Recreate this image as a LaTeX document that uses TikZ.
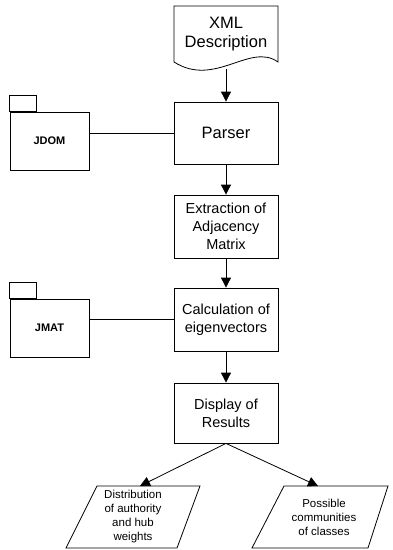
\documentclass[tikz,border=0pt]{standalone}
\usepackage{fontspec}
\setmainfont{Liberation Sans}
\usetikzlibrary{arrows.meta}
\begin{document}
\begin{tikzpicture}[x=1pt,y=-1pt,
  line width=0.8pt,
  flow/.style={draw=black, -{Triangle[width=10pt,length=10pt]}},
  link/.style={draw=black},
  procbox/.style={draw=black, fill=white, minimum width=104pt, inner sep=0pt, align=center,
                  font=\fontsize{14.5}{18.3}\selectfont},
  pkgbody/.style={draw=black, fill=white, minimum width=79pt, minimum height=58pt, inner sep=0pt,
                  font=\bfseries\fontsize{11}{13}\selectfont},
  outtext/.style={align=center, inner sep=0pt, font=\fontsize{11.5}{14}\selectfont}]
\useasboundingbox (0,0) rectangle (392,550);

% input document with wavy bottom edge
\draw[fill=white] (174,6) -- (278,6) -- (278,62)
  .. controls (250,42) and (215,88) .. (174,62) -- cycle;
\node[align=center, inner sep=0pt, font=\fontsize{16.5}{18.5}\selectfont] (xml) at (226,34) {XML\\Description};
\coordinate (xmlout) at (226,69);

% processing steps
\node[procbox, minimum height=62pt, font=\fontsize{16.5}{18.5}\selectfont] (parser) at (226,133) {Parser};
\node[procbox, minimum height=63pt] (extract) at (226,226.5) {Extraction of\\Adjacency\\Matrix};
\node[procbox, minimum height=63pt] (calc) at (226,319.5) {Calculation of\\eigenvectors};
\node[procbox, minimum height=60pt] (display) at (226,413) {Display of\\Results};

% library packages
\node[pkgbody] (jdom) at (49.5,141) {JDOM};
\draw (jdom.north west) rectangle ++(27,-16);
\node[pkgbody] (jmat) at (49.5,328) {JMAT};
\draw (jmat.north west) rectangle ++(27,-16);

% results
\draw[fill=white] (97,486) -- (200,486) -- (177,548) -- (66,548) -- cycle;
\node[outtext] (dist) at (133,517) {Distribution\\of authority\\and hub\\weights};
\coordinate (distin) at (140,486);
\draw[fill=white] (284,486) -- (388,486) -- (368,548) -- (252,548) -- cycle;
\node[outtext] (comm) at (324,517) {Possible\\communities\\of classes};
\coordinate (commin) at (318,486);

% connectors
\draw[flow] (xmlout) -- (parser.north);
\draw[flow] (parser.south) -- (extract.north);
\draw[flow] (extract.south) -- (calc.north);
\draw[flow] (calc.south) -- (display.north);
\draw[flow] (display.south) -- (distin);
\draw[flow] (display.south) -- (commin);
\draw[link] (jdom.east |- parser.west) -- (parser.west);
\draw[link] (jmat.east |- calc.west) -- (calc.west);
\end{tikzpicture}
\end{document}
